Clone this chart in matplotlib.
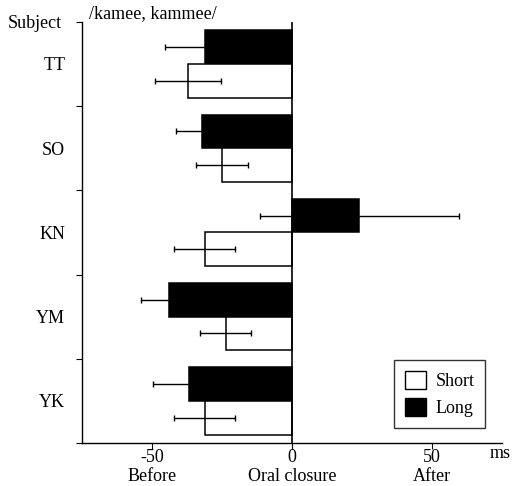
import matplotlib
matplotlib.use("Agg")
import matplotlib.pyplot as plt
from matplotlib.patches import Patch
import numpy as np

subjects = ["TT", "SO", "KN", "YM", "YK"]
long_vals = [-31.0, -32.2, 24.0, -44.1, -36.9]
long_err = [14.5, 9.4, 35.5, 10.0, 12.6]
short_vals = [-37.2, -25.1, -31.2, -23.7, -31.2]
short_err = [11.7, 9.3, 11.0, 9.0, 11.0]
xtick_vals = [-50, 0, 50]
xtick_labels = ["-50\nBefore", "0\nOral closure", "50\nAfter"]

plt.rcParams['font.family'] = ['Liberation Serif', 'DejaVu Serif']
FS = 13

fig = plt.figure(figsize=(5.22, 4.86), dpi=100)
ax = fig.add_axes([0.157, 0.0885, 0.805, 0.8665])

y = np.arange(len(subjects))
h = 0.4
ax.barh(y - 0.2, long_vals, height=h, color="black", edgecolor="black", lw=1.1,
        xerr=long_err, error_kw=dict(ecolor="black", elinewidth=1, capsize=2.5, capthick=1), zorder=2)
ax.barh(y + 0.2, short_vals, height=h, color="white", edgecolor="black", lw=1.1,
        xerr=short_err, error_kw=dict(ecolor="black", elinewidth=1, capsize=2.5, capthick=1), zorder=2)
ax.axvline(0, color="black", lw=1.2, zorder=3)

ax.set_xlim(-75, 75)
ax.set_ylim(len(subjects) - 0.5, -0.5)

for s in ["top", "right"]:
    ax.spines[s].set_visible(False)
ax.spines["left"].set_linewidth(1)
ax.spines["bottom"].set_linewidth(1)

ax.set_yticks(np.arange(len(subjects) + 1) - 0.5)
ax.set_yticklabels([])
ax.set_yticks(y, minor=True)
ax.set_yticklabels(subjects, minor=True, fontsize=FS)
ax.tick_params(axis="y", which="major", length=4, direction="out")
ax.tick_params(axis="y", which="minor", length=0, pad=12)

ax.set_xticks(xtick_vals)
ax.set_xticklabels(xtick_labels, fontsize=FS, linespacing=1.1)
ax.tick_params(axis="x", length=4, direction="out", pad=0.5)

fig.text(62 / 522, 1 - 23 / 486, "Subject", fontsize=FS, ha="right", va="center")
fig.text(89 / 522, 1 - 14 / 486, "/kamee, kammee/", fontsize=FS, ha="left", va="center")
fig.text(500 / 522, 1 - 453 / 486, "ms", fontsize=FS, ha="center", va="center")

handles = [Patch(facecolor="white", edgecolor="black", label="Short"),
           Patch(facecolor="black", edgecolor="black", label="Long")]
leg = ax.legend(handles=handles, loc="lower right", bbox_to_anchor=(0.96, 0.036),
                borderaxespad=0, fontsize=FS, frameon=True, fancybox=False, edgecolor="black",
                handlelength=1.2, handleheight=1.15, handletextpad=0.5,
                borderpad=0.6, labelspacing=0.45)
leg.get_frame().set_linewidth(1)

fig.savefig("out.png", dpi=100)
